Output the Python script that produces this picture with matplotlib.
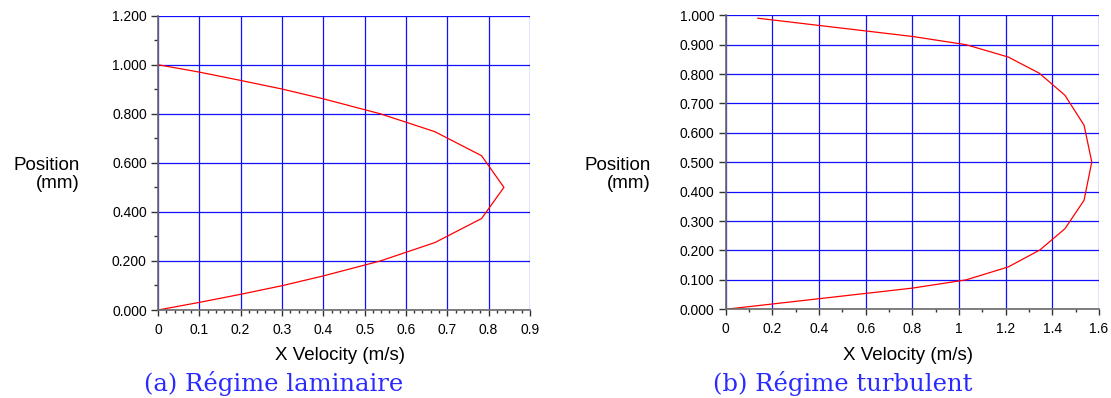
import numpy as np
import matplotlib
matplotlib.use("Agg")
import matplotlib.pyplot as plt
from matplotlib.ticker import MultipleLocator, FormatStrFormatter, FuncFormatter

# laminar profile (a): velocity (m/s) vs position (mm)
lam_vel = [0.0, 0.10, 0.20, 0.30, 0.40, 0.538, 0.670, 0.783, 0.837,
           0.783, 0.670, 0.538, 0.40, 0.30, 0.20, 0.10, 0.0]
lam_pos = [0.0, 0.031, 0.064, 0.099, 0.139, 0.200, 0.275, 0.373, 0.500,
           0.629, 0.727, 0.800, 0.861, 0.901, 0.936, 0.970, 1.000]

# turbulent profile (b)
turb_vel = [0.0, 0.80, 1.03, 1.211, 1.347, 1.454, 1.536, 1.569,
            1.536, 1.454, 1.344, 1.211, 1.03, 0.80, 0.138]
turb_pos = [0.0, 0.072, 0.100, 0.144, 0.202, 0.274, 0.371, 0.501,
            0.626, 0.728, 0.803, 0.858, 0.900, 0.928, 0.990]

captions = ["(a) Régime laminaire", "(b) Régime turbulent"]

plt.rcParams['font.family'] = ['Liberation Sans', 'DejaVu Sans']

fig = plt.figure(figsize=(11.11, 3.98), dpi=100)
ax1 = fig.add_axes([0.1422, 0.2211, 0.3348, 0.7395])
ax2 = fig.add_axes([0.6532, 0.2229, 0.3360, 0.7387])


def style_axes(ax):
    ax.spines['top'].set_visible(False)
    ax.spines['right'].set_visible(False)
    for s in ['left', 'bottom']:
        ax.spines[s].set_color('#6a6a6a')
        ax.spines[s].set_linewidth(1.2)
    ax.grid(True, which='major', color='#1010ff', linewidth=0.9)
    ax.set_axisbelow(True)
    ax.tick_params(axis='y', which='major', direction='out', length=5,
                   width=1, color='#333333', labelsize=10, pad=3)
    ax.tick_params(axis='y', which='minor', direction='out', length=3,
                   width=1, color='#333333')
    ax.tick_params(axis='x', which='major', direction='out', length=4,
                   width=1, color='#333333', labelsize=10, pad=5)
    ax.tick_params(axis='x', which='minor', direction='out', length=2,
                   width=1, color='#333333')


# (a) laminar
ax1.plot(lam_vel, lam_pos, color='red', linewidth=0.9)
ax1.set_xlim(0, 0.9)
ax1.set_ylim(0, 1.2)
ax1.xaxis.set_major_locator(MultipleLocator(0.1))
ax1.xaxis.set_minor_locator(MultipleLocator(0.02))
ax1.yaxis.set_major_locator(MultipleLocator(0.2))
ax1.yaxis.set_minor_locator(MultipleLocator(0.1))
ax1.xaxis.set_major_formatter(FuncFormatter(lambda v, p: '%g' % round(v, 3)))
ax1.yaxis.set_major_formatter(FormatStrFormatter('%.3f'))
style_axes(ax1)

# (b) turbulent
ax2.plot(turb_vel, turb_pos, color='red', linewidth=0.9)
ax2.set_xlim(0, 1.6)
ax2.set_ylim(0, 1.0)
ax2.xaxis.set_major_locator(MultipleLocator(0.2))
ax2.xaxis.set_minor_locator(MultipleLocator(0.1))
ax2.yaxis.set_major_locator(MultipleLocator(0.1))
ax2.xaxis.set_major_formatter(FuncFormatter(lambda v, p: '%g' % round(v, 3)))
ax2.yaxis.set_major_formatter(FormatStrFormatter('%.3f'))
style_axes(ax2)

# axis labels and captions
for xl, xc, xcap, cap in [(0.072, 0.306, 0.2466, captions[0]),
                          (0.586, 0.8177, 0.7588, captions[1])]:
    fig.text(xl, 1 - 170 / 398, 'Position', ha='right', va='baseline', fontsize=13.5)
    fig.text(xl, 1 - 188.5 / 398, '(mm)', ha='right', va='baseline', fontsize=13.5)
    fig.text(xc, 0.0955, 'X Velocity (m/s)', ha='center', va='baseline', fontsize=13.5)
    fig.text(xcap, 0.0183, cap, ha='center', va='baseline', fontsize=17.5,
             family='DejaVu Serif', color='#2a2aff')

fig.savefig('out.png', dpi=100)
